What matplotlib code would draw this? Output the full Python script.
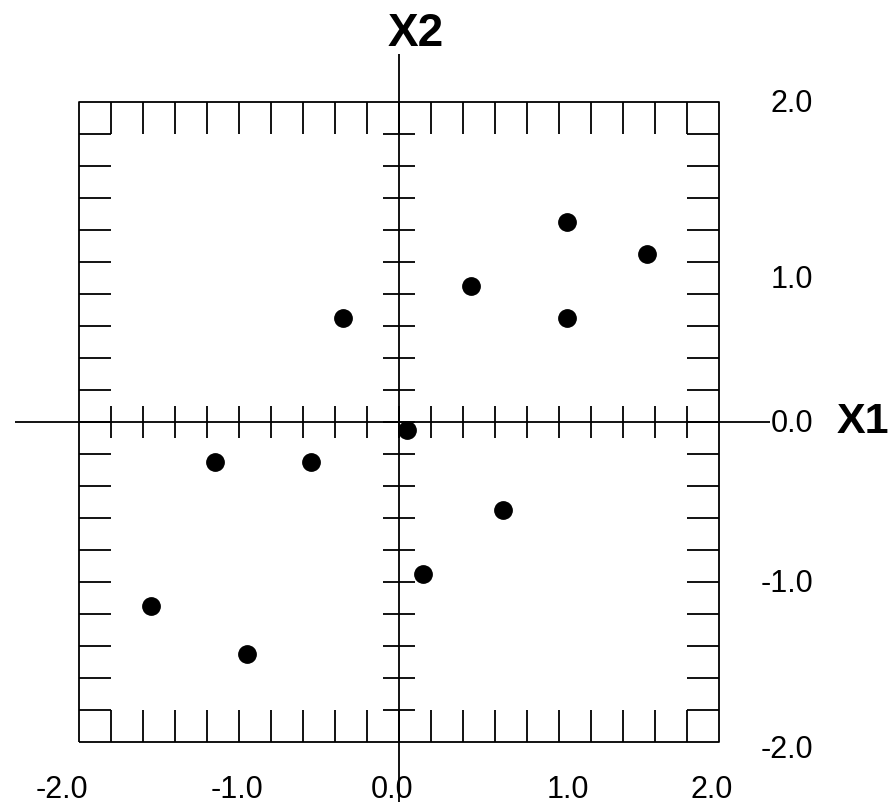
import numpy as np
import matplotlib
matplotlib.use("Agg")
import matplotlib.pyplot as plt

plt.rcParams['font.family'] = ['Liberation Sans', 'DejaVu Sans']

# data
x1 = [-0.35, 1.05, 1.55, 0.45, 1.05, 0.05, -1.15, -0.55, 0.15, -1.55, -0.95, 0.65]
x2 = [0.65, 1.25, 1.05, 0.85, 0.65, -0.05, -0.25, -0.25, -0.95, -1.15, -1.45, -0.55]
xlabels = ["-2.0", "-1.0", "0.0", "1.0", "2.0"]
ylabels = ["2.0", "1.0", "0.0", "-1.0", "-2.0"]

fig = plt.figure(figsize=(8.92, 8.07), dpi=100)
ax = fig.add_axes([0, 0, 1, 1])
ax.set_xlim(-2.492, 3.083)
ax.set_ylim(-2.404, 2.639)
ax.axis("off")

lw = 1.3
k = dict(color="black", lw=lw, solid_capstyle="butt")

# frame
ax.plot([-2, 2, 2, -2, -2], [-2, -2, 2, 2, -2], **k)

# inner ticks on frame, one step long
steps = np.round(np.arange(-1.8, 1.81, 0.2), 2)
for t in steps:
    ax.plot([t, t], [2, 1.8], **k)
    ax.plot([t, t], [-2, -1.8], **k)
    ax.plot([-2, -1.8], [t, t], **k)
    ax.plot([2, 1.8], [t, t], **k)
    # ticks on the axes through the origin
    ax.plot([t, t], [-0.1, 0.1], **k)
    ax.plot([-0.1, 0.1], [t, t], **k)

# axes through origin
ax.plot([-2.4, 2.32], [0, 0], **k)
ax.plot([0, 0], [-2.37, 2.30], **k)

ax.plot(x1, x2, "o", color="black", ms=12.5)

fs = 22
xpos = [-2.107, -1.008, -0.044, 1.06, 1.956]
for s, xp in zip(xlabels, xpos):
    ax.text(xp, -2.35, s, ha="center", va="baseline", fontsize=fs)
ypos = [1.941, 0.84, -0.059, -1.059, -2.10]
for s, yp in zip(ylabels, ypos):
    ax.text(2.59, yp, s, ha="right", va="baseline", fontsize=fs)

ax.text(2.739, -0.067, "X1", ha="left", va="baseline", fontsize=31, fontweight="bold")
ax.text(0.105, 2.352, "X2", ha="center", va="baseline", fontsize=33, fontweight="bold")

plt.savefig("out.png", dpi=100)
